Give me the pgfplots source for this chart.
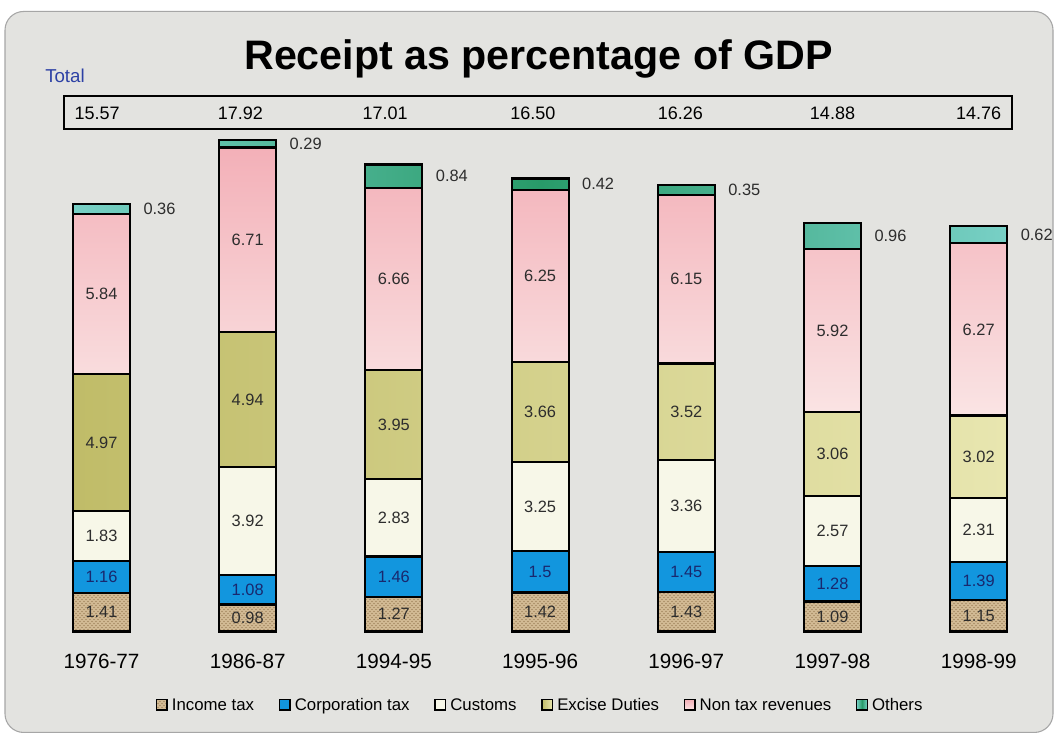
\documentclass[border=0pt]{standalone}
\usepackage{pgfplots}
\pgfplotsset{compat=1.18}
\usepackage{pgfplotstable}
\usetikzlibrary{patterns}
\usepackage{fontspec}
\setmainfont{Liberation Sans}
\definecolor{bg}{RGB}{227,227,224}
\definecolor{incC}{RGB}{210,186,148}
\definecolor{incD}{RGB}{140,110,70}
\definecolor{corpC}{RGB}{18,150,222}
\definecolor{custC}{RGB}{247,247,232}
\definecolor{excA}{RGB}{192,188,104}
\definecolor{excB}{RGB}{232,230,176}
\definecolor{nonA}{RGB}{243,176,184}
\definecolor{nonB}{RGB}{250,228,228}
\definecolor{othA}{RGB}{120,208,198}
\definecolor{othB}{RGB}{40,155,105}
\definecolor{totblue}{RGB}{45,65,165}
\definecolor{lab}{RGB}{45,45,45}
\definecolor{navy}{RGB}{25,40,110}

\pgfplotstableread{
x inc corp cust exc non oth
0 1.41 1.16 1.83 4.97 5.84 0.36
1 0.98 1.08 3.92 4.94 6.71 0.29
2 1.27 1.46 2.83 3.95 6.66 0.84
3 1.42 1.5 3.25 3.66 6.25 0.42
4 1.43 1.45 3.36 3.52 6.15 0.35
5 1.09 1.28 2.57 3.06 5.92 0.96
6 1.15 1.39 2.31 3.02 6.27 0.62
}\segs

\pgfplotstableread{
x y tot
-0.03 18.86 15.57
0.95 18.86 17.92
1.94 18.86 17.01
2.95 18.86 16.50
3.96 18.86 16.26
5.00 18.86 14.88
6.00 18.86 14.76
}\tots

\pgfplotsset{
  base/.style={
    scale only axis, width=767.55pt, height=473.5pt,
    xmin=-0.5, xmax=6.5, ymin=0, ymax=23,
    at={(21.3pt,79.5pt)}, anchor=south west, clip=false,
    /pgf/number format/assume math mode=true},
}

\begin{document}
\begin{tikzpicture}
\begin{scope}[x=0.75pt,y=0.75pt]
\fill[white] (0,0) rectangle (1064,733);
\filldraw[fill=bg, draw=gray!70, line width=0.8pt, rounded corners=14pt] (5,5) rectangle (1053,726);
\end{scope}

\begin{axis}[base,
  ybar stacked, bar width=42.75pt,
  axis line style={draw=none}, major tick length=0pt, ytick=\empty,
  xtick={0,...,6},
  xticklabels={1976-77,1986-87,1994-95,1995-96,1996-97,1997-98,1998-99},
  xticklabel style={anchor=center, yshift=-22.5pt, font=\fontsize{15.5}{18}\selectfont},
  every axis plot/.append style={draw=black, line width=1.6pt},
  visualization depends on={rawy \as \myval},
  nodes near coords={\pgfmathprintnumber{\myval}},
  every node near coord/.style={anchor=center, text=lab,
     font=\fontsize{12.3}{14}\selectfont},
  legend columns=6,
  legend image code/.code={\draw[#1, draw=black, line width=1.1pt] (0pt,-2.2pt) rectangle (8pt,5.8pt);},
  legend style={at={(0.501,-0.120)}, anchor=center, draw=none, fill=none,
     font=\fontsize{12.6}{14}\selectfont,
     nodes={inner xsep=3pt, text height=0.72em, text depth=0.21em},
     /tikz/every even column/.append style={column sep=15.4pt}},
]
\addplot[fill=incC, postaction={pattern=crosshatch dots, pattern color=incD}] table[x=x,y=inc]{\segs};
\addplot[fill=corpC, every node near coord/.append style={text=navy}] table[x=x,y=corp]{\segs};
\addplot[fill=custC] table[x=x,y=cust]{\segs};
\addplot[left color=excA, right color=excB] table[x=x,y=exc]{\segs};
\addplot[top color=nonA, bottom color=nonB] table[x=x,y=non]{\segs};
\addplot[left color=othA, right color=othA, middle color=othB,
   every node near coord/.append style={anchor=west, xshift=27.4pt}] table[x=x,y=oth]{\segs};
\legend{Income tax, Corporation tax, Customs, Excise Duties, Non tax revenues, Others}
\end{axis}

\begin{axis}[base, hide axis]
\addplot[draw=none, mark=none, point meta=explicit,
  nodes near coords={\pgfmathprintnumber[fixed,fixed zerofill,precision=2]{\pgfplotspointmeta}},
  every node near coord/.append style={anchor=center, text=black, font=\fontsize{13.5}{16}\selectfont}]
  table[x=x,y=y,meta=tot]{\tots};
\draw[line width=1.5pt] (axis cs:-0.257,18.30) rectangle (axis cs:6.227,19.49);
\end{axis}

\begin{scope}[x=0.75pt,y=0.75pt]
\node[anchor=base, font=\fontsize{30.9}{36}\selectfont\bfseries] at (538.5,668) {Receipt as percentage of GDP};
\node[anchor=base west, inner sep=0pt, text=totblue, font=\fontsize{14}{16}\selectfont] at (45,655) {Total};
\end{scope}
\end{tikzpicture}
\end{document}
